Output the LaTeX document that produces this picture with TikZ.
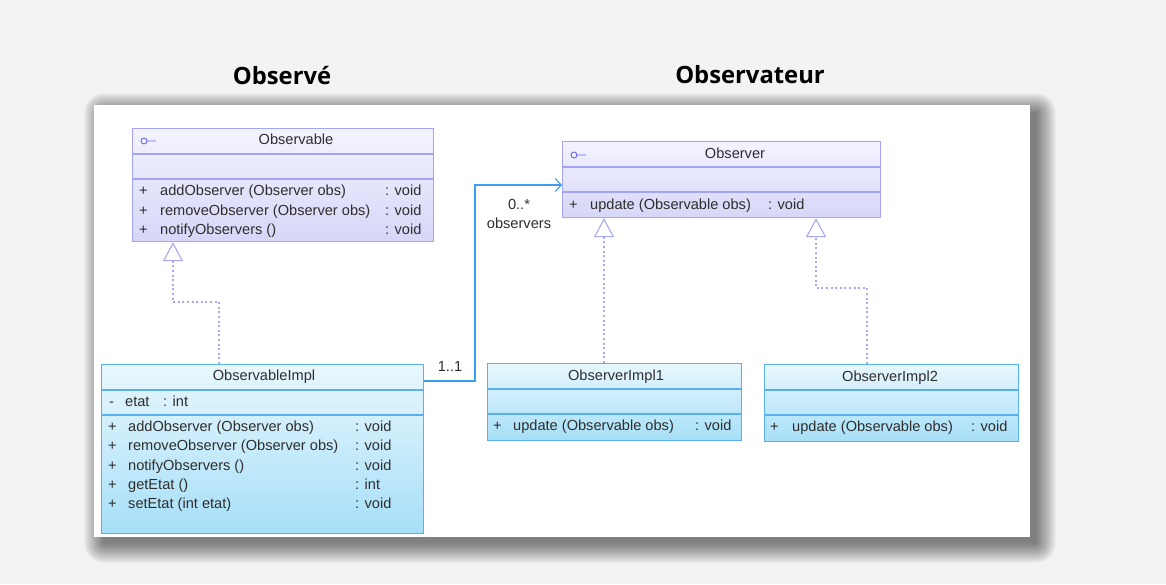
\documentclass[tikz,border=0pt]{standalone}
\usepackage{fontspec}
\setmainfont{Liberation Sans}
\newfontfamily\titlefont{Open Sans}
\usetikzlibrary{arrows.meta}
\definecolor{bgc}{HTML}{F3F3F3}
\definecolor{ifborder}{HTML}{A4A4F4}
\definecolor{iftop}{HTML}{F3F3FF}
\definecolor{ifbot}{HTML}{D6D6F8}
\definecolor{imborder}{HTML}{58B0EE}
\definecolor{imtop}{HTML}{E8F7FD}
\definecolor{imbot}{HTML}{A6DFF8}
\definecolor{assoc}{HTML}{3C9EEE}
\definecolor{realc}{HTML}{A8A8F0}
\definecolor{icon}{HTML}{6A6AE8}
\definecolor{txt}{HTML}{2E2E2E}
\tikzset{
  ifbox/.style={draw=ifborder, line width=1.1pt, top color=iftop, bottom color=ifbot,
    rectangle, anchor=north west, inner sep=0pt},
  imbox/.style={draw=imborder, line width=1.1pt, top color=imtop, bottom color=imbot,
    rectangle, anchor=north west, inner sep=0pt},
  ifsep/.style={draw=ifborder, line width=1.1pt},
  imsep/.style={draw=imborder, line width=1.1pt},
  member/.style={anchor=west, inner sep=0pt, text height=10pt, text depth=3pt, yshift=-1pt,
    font=\fontsize{14.6}{16}\selectfont, text=txt},
  cname/.style={anchor=center, inner sep=0pt, text height=10.5pt, text depth=3pt,
    font=\fontsize{14.6}{16}\selectfont, text=txt},
  ttl/.style={anchor=center, inner sep=0pt, font=\titlefont\bfseries\fontsize{23.8}{26}\selectfont, text=black},
  realline/.style={draw=realc, line width=1.3pt, dash pattern=on 2pt off 2.6pt,
    -{Triangle[open, length=19pt, width=20pt, line width=1.1pt]}},
  assocline/.style={draw=assoc, line width=1.1pt, -{Straight Barb[length=6pt, width=13pt, line width=1.1pt]}},
  mult/.style={anchor=center, inner sep=0pt, font=\fontsize{14.6}{16}\selectfont, text=txt},
}
\begin{document}
\begin{tikzpicture}[x=1pt, y=-1pt]
\useasboundingbox (0,0) rectangle (1166,584);
\fill[bgc] (0,0) rectangle (1166,584);
% panel shadow
\foreach \s in {0,1,...,20}{
  \fill[black, opacity=0.028, rounded corners=\s pt] (94+10-\s,105+8-\s) rectangle (1030+6+\s,537+6+\s);
}
\fill[white] (94,105) rectangle (1030,537);

% titles
\node[ttl] (t1) at (282,75) {Observé};
\node[ttl] (t2) at (750,75) {Observateur};

% Observable
\node[ifbox, minimum width=301pt, minimum height=113pt] (observable) at (132,128) {};
\draw[ifsep] (132,154) -- (433,154);
\draw[ifsep] (132,179) -- (433,179);
\draw[icon, line width=0.9pt] (144,141) circle (3pt) (147,141) -- (156,141);
\node[cname] (observableN) at (296,141) {Observable};
\node[member] (o1a) at (139,191) {+}; \node[member] (o1b) at (160,191) {addObserver (Observer obs)}; \node[member] (o1c) at (385,191) {: void};
\node[member] (o2a) at (139,211) {+}; \node[member] (o2b) at (160,211) {removeObserver (Observer obs)}; \node[member] (o2c) at (385,211) {: void};
\node[member] (o3a) at (139,230) {+}; \node[member] (o3b) at (160,230) {notifyObservers ()}; \node[member] (o3c) at (385,230) {: void};

% Observer
\node[ifbox, minimum width=318pt, minimum height=76pt] (observer) at (562,141) {};
\draw[ifsep] (562,167) -- (880,167);
\draw[ifsep] (562,192) -- (880,192);
\draw[icon, line width=0.9pt] (574,155) circle (3pt) (577,155) -- (586,155);
\node[cname] (observerN) at (735,155) {Observer};
\node[member] (ob1a) at (569,205) {+}; \node[member] (ob1b) at (590,205) {update (Observable obs)}; \node[member] (ob1c) at (768,205) {: void};

% ObservableImpl
\node[imbox, minimum width=322pt, minimum height=169pt] (observableimpl) at (101,364) {};
\draw[imsep] (101,390) -- (423,390);
\draw[imsep] (101,415) -- (423,415);
\node[cname] (observableimplN) at (264,377) {ObservableImpl};
\node[member] (oi0a) at (109,402) {-}; \node[member] (oi0b) at (125,402) {etat}; \node[member] (oi0c) at (163,402) {: int};
\node[member] (oi1a) at (108,427) {+}; \node[member] (oi1b) at (128,427) {addObserver (Observer obs)}; \node[member] (oi1c) at (355,427) {: void};
\node[member] (oi2a) at (108,446) {+}; \node[member] (oi2b) at (128,446) {removeObserver (Observer obs)}; \node[member] (oi2c) at (355,446) {: void};
\node[member] (oi3a) at (108,466) {+}; \node[member] (oi3b) at (128,466) {notifyObservers ()}; \node[member] (oi3c) at (355,466) {: void};
\node[member] (oi4a) at (108,485) {+}; \node[member] (oi4b) at (128,485) {getEtat ()}; \node[member] (oi4c) at (355,485) {: int};
\node[member] (oi5a) at (108,504) {+}; \node[member] (oi5b) at (128,504) {setEtat (int etat)}; \node[member] (oi5c) at (355,504) {: void};

% ObserverImpl1
\node[imbox, minimum width=254pt, minimum height=77pt] (impl1) at (487,363) {};
\draw[imsep] (487,389) -- (741,389);
\draw[imsep] (487,414) -- (741,414);
\node[cname] (impl1N) at (616,377) {ObserverImpl1};
\node[member] (i1a) at (493,426) {+}; \node[member] (i1b) at (513,426) {update (Observable obs)}; \node[member] (i1c) at (695,426) {: void};

% ObserverImpl2
\node[imbox, minimum width=254pt, minimum height=77pt] (impl2) at (764,364) {};
\draw[imsep] (764,390) -- (1018,390);
\draw[imsep] (764,415) -- (1018,415);
\node[cname] (impl2N) at (890,378) {ObserverImpl2};
\node[member] (i2a) at (770,427) {+}; \node[member] (i2b) at (792,427) {update (Observable obs)}; \node[member] (i2c) at (971,427) {: void};

% realizations
\coordinate (r1) at (173,302);
\coordinate (r2) at (219,302);
\draw[realline] (observableimpl.north -| r2) -- (r2) -- (r1) -- (observable.south -| r1);
\coordinate (r3) at (604,300);
\draw[realline] (impl1.north -| r3) -- (observer.south -| r3);
\coordinate (r4) at (816,288);
\coordinate (r5) at (867,288);
\draw[realline] (impl2.north -| r5) -- (r5) -- (r4) -- (observer.south -| r4);

% association
\coordinate (a1) at (475,381);
\coordinate (a2) at (475,185);
\draw[assocline] (observableimpl.east |- a1) -- (a1) -- (a2) -- (observer.west |- a2);
\node[mult] (m1) at (450,366) {1..1};
\node[mult] (m2) at (519,204) {0..*};
\node[mult] (m3) at (519,223) {observers};
\end{tikzpicture}
\end{document}
